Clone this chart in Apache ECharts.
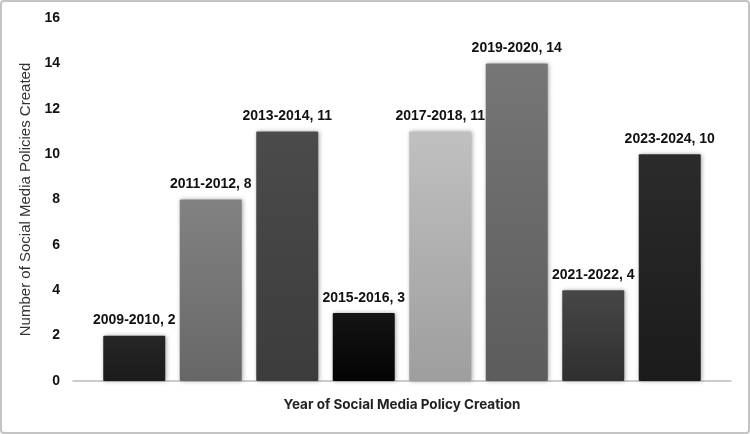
<!DOCTYPE html>
<html>
<head>
<meta charset="utf-8">
<script src="https://cdn.jsdelivr.net/npm/echarts@6/dist/echarts.min.js"></script>
<style>
    html, body { margin: 0; padding: 0; background: #fff; }
    #policyChart {
        width: 750px;
        height: 434px;
        box-sizing: border-box;
        border: 2px solid #c4c4c4;
        border-radius: 4px;
    }
</style>
</head>
<body>
<div id="policyChart"></div>
<script>
    // data
    const periods = ['2009-2010', '2011-2012', '2013-2014', '2015-2016', '2017-2018', '2019-2020', '2021-2022', '2023-2024']
    const policyCounts = [2, 8, 11, 3, 11, 14, 4, 10]
    const yTicks = [0, 2, 4, 6, 8, 10, 12, 14, 16]
    // top / bottom shade of each bar
    const barShades = [
        ['#262626', '#1b1b1b'],
        ['#828282', '#676767'],
        ['#4b4b4b', '#3c3c3c'],
        ['#141414', '#040404'],
        ['#c0c0c0', '#9e9e9e'],
        ['#767676', '#5c5c5c'],
        ['#474747', '#2f2f2f'],
        ['#2b2b2b', '#1b1b1b']
    ]

    const bold = { color: '#111', fontFamily: 'Liberation Sans, Arial', fontWeight: 'bold', fontSize: 14 }

    let option = {
        animation: false,
        grid: [
            { left: 94, right: 40, top: 16, bottom: 51 },
            { left: 71, right: 17, top: 16, bottom: 51 }
        ],
        xAxis: [
            {
                type: 'category',
                data: periods,
                axisLine: { show: false },
                axisTick: { show: false },
                axisLabel: { show: false },
                name: 'Year of Social Media Policy Creation',
                nameLocation: 'middle',
                nameGap: 17,
                nameTextStyle: { color: '#222', fontFamily: 'Inter', fontWeight: 'bold', fontSize: 13.5 }
            },
            {
                type: 'value',
                gridIndex: 1,
                min: 0,
                max: 1,
                axisLine: { show: true, lineStyle: { color: '#bcbcbc', width: 1.5 } },
                axisTick: { show: false },
                axisLabel: { show: false },
                splitLine: { show: false }
            }
        ],
        yAxis: [
            {
                type: 'value',
                min: yTicks[0],
                max: yTicks[yTicks.length - 1],
                interval: 2,
                axisLine: { show: false },
                axisTick: { show: false },
                splitLine: { show: false },
                axisLabel: Object.assign({ margin: 36 }, bold),
                name: 'Number of Social Media Policies Created',
                nameLocation: 'middle',
                nameGap: 57,
                nameTextStyle: { color: '#333', fontFamily: 'Liberation Sans, Arial', fontSize: 15 }
            },
            { type: 'value', gridIndex: 1, show: false, min: 0, max: 1 }
        ],
        series: [
            {
                type: 'bar',
                barWidth: 62,
                data: policyCounts.map((v, i) => ({
                    value: v,
                    itemStyle: {
                        color: new echarts.graphic.LinearGradient(0, 0, 0, 1, [
                            { offset: 0, color: barShades[i][0] },
                            { offset: 1, color: barShades[i][1] }
                        ])
                    }
                })),
                itemStyle: {
                    borderRadius: 1,
                    shadowBlur: 4,
                    shadowColor: 'rgba(0, 0, 0, 0.35)',
                    shadowOffsetX: 1,
                    shadowOffsetY: 0
                },
                label: Object.assign({
                    show: true,
                    position: 'top',
                    distance: 8,
                    formatter: p => p.name + ', ' + p.value
                }, bold)
            }
        ]
    }
    const myChart = echarts.init(document.getElementById('policyChart'))
    myChart.setOption(option)
</script>
</body>
</html>
